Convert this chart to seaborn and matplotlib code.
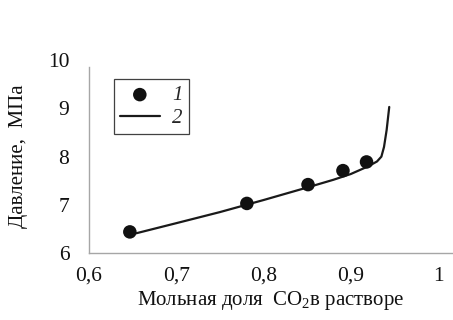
import matplotlib.pyplot as plt
import seaborn as sns
import pandas as pd

# experimental points (1) and calculated curve (2)
x_exp = [0.647, 0.781, 0.851, 0.891, 0.918]
p_exp = [6.44, 7.03, 7.42, 7.71, 7.89]

x_calc = [0.654, 0.700, 0.750, 0.800, 0.850, 0.880, 0.900, 0.920, 0.930, 0.935, 0.938, 0.941, 0.944]
p_calc = [6.41, 6.62, 6.85, 7.10, 7.36, 7.52, 7.64, 7.80, 7.90, 8.00, 8.20, 8.55, 9.03]

xticks = [0.6, 0.7, 0.8, 0.9, 1.0]
xtick_labels = ['0,6', '0,7', '0,8', '0,9', '1']
yticks = [6, 7, 8, 9, 10]

sns.set_style('white')
plt.rcParams['font.family'] = ['Liberation Serif', 'DejaVu Serif']
plt.rcParams['mathtext.fontset'] = 'custom'
plt.rcParams['mathtext.rm'] = 'Liberation Serif'

fig = plt.figure(figsize=(4.53, 3.2), dpi=100)
ax = fig.add_axes([0.196, 0.209, 0.804, 0.603])

exp = pd.DataFrame({'x': x_exp, 'p': p_exp})
calc = pd.DataFrame({'x': x_calc, 'p': p_calc})

sns.lineplot(data=calc, x='x', y='p', ax=ax, color='#1a1a1a', linewidth=1.6,
             sort=False, label='2', zorder=2)
sns.scatterplot(data=exp, x='x', y='p', ax=ax, color='#111111', s=95,
                edgecolor='none', label='1', zorder=3)

ax.set_xlim(0.6, 1.017)
ax.set_ylim(6, 10)
ax.set_xticks(xticks)
ax.set_xticklabels(xtick_labels)
ax.set_yticks(yticks)
ax.tick_params(axis='both', length=0, labelsize=15.5, colors='#111111')
ax.tick_params(axis='x', pad=10)
ax.tick_params(axis='y', pad=14)

for s in ['top', 'right']:
    ax.spines[s].set_visible(False)
for s in ['left', 'bottom']:
    ax.spines[s].set_color('#a6a6a6')
    ax.spines[s].set_linewidth(1.0)
ax.spines['left'].set_bounds(6, 9.85)

ax.set_xlabel('Мольная доля  CO$_2$в растворе', fontsize=15, color='#111111', labelpad=2)
ax.set_ylabel('Давление,  МПа', fontsize=15, color='#111111', labelpad=14)

handles, labels = ax.get_legend_handles_labels()
order = [labels.index('1'), labels.index('2')]
leg = ax.legend([handles[i] for i in order], [labels[i] for i in order],
                loc='upper left', bbox_to_anchor=(0.04, 0.955), frameon=True,
                fancybox=False, edgecolor='#111111', prop={'style': 'italic', 'size': 15},
                handlelength=1.9, handletextpad=0.6, borderpad=0.3, labelspacing=0.15)
leg.get_frame().set_linewidth(0.9)

fig.savefig('out.png', dpi=100)
